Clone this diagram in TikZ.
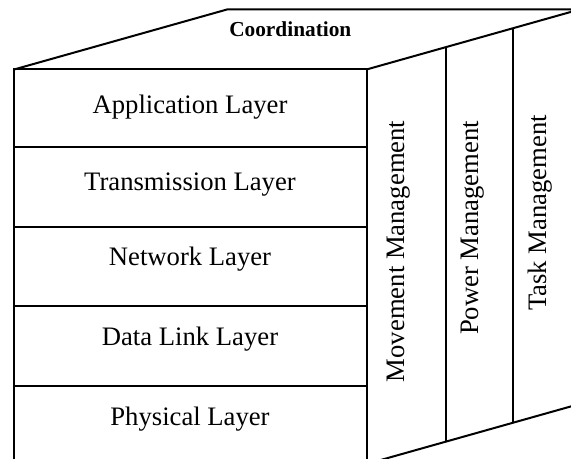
\documentclass[tikz,border=0pt]{standalone}
\usepackage{fontspec}
\setmainfont{Liberation Serif}
\usetikzlibrary{calc}
\begin{document}
\begin{tikzpicture}[x=0.75pt,y=-0.75pt,line width=1.5pt,line join=miter,
  edge/.style={draw=black,line width=1.5pt},
  layertext/.style={anchor=base,inner sep=0pt,font=\fontsize{20}{24}\selectfont},
  mgmttext/.style={anchor=base,inner sep=0pt,rotate=90,font=\fontsize{20}{24}\selectfont},
  toptext/.style={anchor=base,inner sep=0pt,font=\bfseries\fontsize{16}{19}\selectfont}]
\useasboundingbox (0,0) rectangle (571,459);
\clip (0,0) rectangle (571,459);
% corners
\coordinate (FTL) at (14,69.5);
\coordinate (FTR) at (366.5,69.5);
\coordinate (FBL) at (14,464);
\coordinate (FBR) at (366.5,464);
\coordinate (BTL) at (227,9.5);
\coordinate (BTR) at (579.5,9.5);
\coordinate (BBR) at (579.5,404);
% layer separators
\coordinate (s1l) at (14,147.5);  \coordinate (s1r) at (366.5,147.5);
\coordinate (s2l) at (14,227);    \coordinate (s2r) at (366.5,227);
\coordinate (s3l) at (14,306.5);  \coordinate (s3r) at (366.5,306.5);
\coordinate (s4l) at (14,386);    \coordinate (s4r) at (366.5,386);
% front box
\draw[edge] (FTL) -- (FTR) -- (FBR) -- (FBL) -- cycle;
\draw[edge] (s1l) -- (s1r);
\draw[edge] (s2l) -- (s2r);
\draw[edge] (s3l) -- (s3r);
\draw[edge] (s4l) -- (s4r);
% top face
\draw[edge] (FTL) -- (BTL) -- (BTR) -- (FTR);
% side face
\draw[edge] (FBR) -- (BBR);
\coordinate (c1t) at ($(FTR)!0.373!(BTR)$);
\coordinate (c1b) at ($(FBR)!0.373!(BBR)$);
\coordinate (c2t) at ($(FTR)!0.686!(BTR)$);
\coordinate (c2b) at ($(FBR)!0.686!(BBR)$);
\draw[edge] (c1t) -- (c1b);
\draw[edge] (c2t) -- (c2b);
% texts
\node[toptext] (coord) at (290.3,36.7) {Coordination};
\node[layertext] (app) at (190,113.8) {Application Layer};
\node[layertext] (trans) at (190,190.5) {Transmission Layer};
\node[layertext] (net) at (190,265.5) {Network Layer};
\node[layertext] (dll) at (190,345.5) {Data Link Layer};
\node[layertext] (phy) at (190,425.5) {Physical Layer};
\node[mgmttext] (move) at (404,251.4) {Movement Management};
\node[mgmttext] (power) at (478.3,227.9) {Power Management};
\node[mgmttext] (task) at (546.7,212.8) {Task Management};
\end{tikzpicture}
\end{document}
